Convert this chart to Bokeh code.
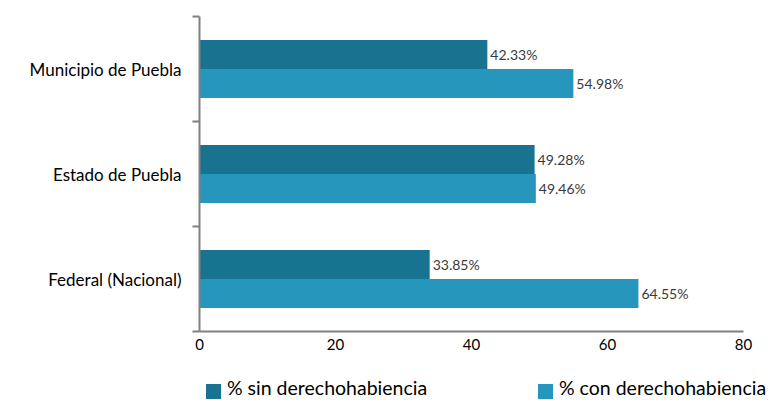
from bokeh.plotting import figure
from bokeh.layouts import column
from bokeh.models import ColumnDataSource, FixedTicker, Range1d, Div
from bokeh.core.properties import value
from bokeh.embed import file_html
from bokeh.resources import INLINE

# Data
categories = ["Federal (Nacional)", "Estado de Puebla", "Municipio de Puebla"]
sin_derecho = [33.85, 49.28, 42.33]
con_derecho = [64.55, 49.46, 54.98]
series_names = ["% sin derechohabiencia", "% con derechohabiencia"]
x_ticks = [0, 20, 40, 60, 80]

FONT = "Lato"
DARK = "#17738F"
LIGHT = "#2696BC"
AXIS = "#808080"
BAR_H = 0.276
OFFSET = 0.138

pos = list(range(len(categories)))

src_sin = ColumnDataSource(dict(
    y=[p_ + OFFSET for p_ in pos], v=sin_derecho,
    lbl=[f"{v:.2f}%" for v in sin_derecho]))
src_con = ColumnDataSource(dict(
    y=[p_ - OFFSET for p_ in pos], v=con_derecho,
    lbl=[f"{v:.2f}%" for v in con_derecho]))

p = figure(width=772, height=360, output_backend="svg", toolbar_location=None,
           x_range=Range1d(0, 80), y_range=Range1d(-0.5, 2.5),
           min_border_left=199, min_border_right=29,
           min_border_top=16, min_border_bottom=29)
p.outline_line_color = None
p.xgrid.visible = False
p.ygrid.visible = False

p.hbar(y="y", right="v", left=0, height=BAR_H, source=src_sin,
       fill_color=DARK, line_color=None)
p.hbar(y="y", right="v", left=0, height=BAR_H, source=src_con,
       fill_color=LIGHT, line_color=None)

for src in (src_sin, src_con):
    p.text(x="v", y="y", text="lbl", source=src, x_offset=3,
           text_align="left", text_baseline="middle",
           text_font=value(FONT), text_font_size="14px", text_color="#3a3a3a")

# x axis
xa = p.xaxis[0]
xa.ticker = FixedTicker(ticks=x_ticks)
xa.major_tick_out = 0
xa.major_tick_in = 0
xa.minor_tick_out = 0
xa.minor_tick_in = 0
xa.axis_line_color = AXIS
xa.axis_line_width = 2
xa.major_label_text_font = FONT
xa.major_label_text_font_size = "15px"
xa.major_label_text_color = "#000000"
xa.major_label_standoff = 7

# y axis: labels at category centres, ticks on category boundaries
ya = p.yaxis[0]
ya.ticker = FixedTicker(ticks=pos, minor_ticks=[-0.5, 0.5, 1.5, 2.5])
ya.major_label_overrides = {i: c for i, c in enumerate(categories)}
ya.major_tick_out = 0
ya.major_tick_in = 0
ya.minor_tick_out = 7
ya.minor_tick_in = 0
ya.minor_tick_line_color = AXIS
ya.minor_tick_line_width = 2
ya.axis_line_color = AXIS
ya.axis_line_width = 2
ya.major_label_text_font = FONT
ya.major_label_text_font_size = "17px"
ya.major_label_text_color = "#000000"
ya.major_label_standoff = 11

# legend row under the chart
def legend_entry(left, color, label):
    return (
        f'<span style="position:absolute;left:{left}px;top:24px;width:15px;'
        f'height:15px;background:{color};"></span>'
        f'<span style="position:absolute;left:{left + 21}px;top:16px;'
        f'line-height:24px;white-space:nowrap;">{label}</span>'
    )

legend_html = (
    f'<div style="position:relative;width:772px;height:40px;'
    f'font-family:{FONT};font-size:19.5px;color:#000000;">'
    + legend_entry(206, DARK, series_names[0])
    + legend_entry(538, LIGHT, series_names[1])
    + "</div>"
)
legend_row = Div(text=legend_html, width=772, height=40,
                 styles={"margin": "0", "padding": "0"})

open("out.html", "w").write(file_html(column(p, legend_row, spacing=0), INLINE))
